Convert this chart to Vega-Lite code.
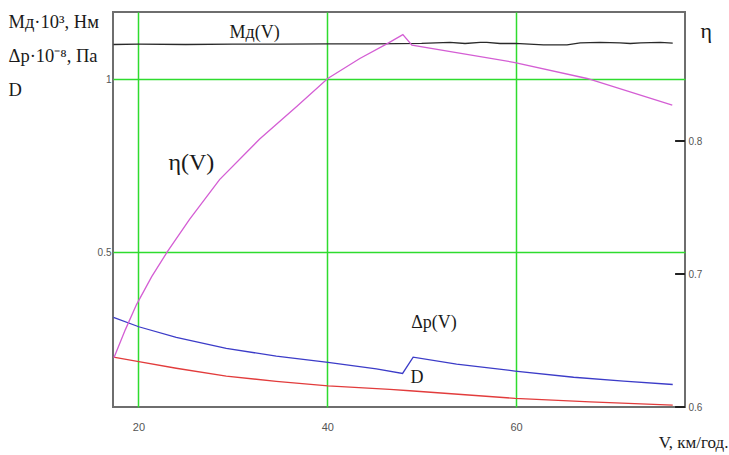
{
  "$schema": "https://vega.github.io/schema/vega-lite/v6.json",
  "width": 572,
  "height": 395,
  "autosize": {"type": "none"},
  "padding": {"left": 113, "top": 12, "right": 44, "bottom": 48},
  "background": "white",
  "config": {
    "view": {"stroke": "#6e6e6e", "strokeWidth": 2},
    "axis": {"domain": false, "labelFont": "Liberation Sans", "labelColor": "#555555", "titleFont": "Liberation Serif", "titleFontWeight": "normal", "titleColor": "#1a1a1a"}
  },
  "datasets": {
    "left": [
      {"series": "M", "V": 17.35, "value": 1.101},
      {"series": "M", "V": 20, "value": 1.102},
      {"series": "M", "V": 25, "value": 1.101},
      {"series": "M", "V": 30, "value": 1.102},
      {"series": "M", "V": 35, "value": 1.102},
      {"series": "M", "V": 40, "value": 1.103},
      {"series": "M", "V": 45, "value": 1.103},
      {"series": "M", "V": 50, "value": 1.104},
      {"series": "M", "V": 53.0, "value": 1.107},
      {"series": "M", "V": 54.6, "value": 1.104},
      {"series": "M", "V": 56.2, "value": 1.107},
      {"series": "M", "V": 56.9, "value": 1.107},
      {"series": "M", "V": 58.3, "value": 1.104},
      {"series": "M", "V": 59.9, "value": 1.104},
      {"series": "M", "V": 62.9, "value": 1.100},
      {"series": "M", "V": 65.4, "value": 1.100},
      {"series": "M", "V": 66.8, "value": 1.106},
      {"series": "M", "V": 68.9, "value": 1.107},
      {"series": "M", "V": 71.0, "value": 1.106},
      {"series": "M", "V": 72.1, "value": 1.104},
      {"series": "M", "V": 73.2, "value": 1.106},
      {"series": "M", "V": 75.3, "value": 1.107},
      {"series": "M", "V": 76.6, "value": 1.105},
      {"series": "dp", "V": 17.35, "value": 0.312},
      {"series": "dp", "V": 20.03, "value": 0.285},
      {"series": "dp", "V": 24.0, "value": 0.254},
      {"series": "dp", "V": 29.3, "value": 0.2225},
      {"series": "dp", "V": 34.6, "value": 0.200},
      {"series": "dp", "V": 40.08, "value": 0.182},
      {"series": "dp", "V": 45.2, "value": 0.163},
      {"series": "dp", "V": 47.98, "value": 0.150},
      {"series": "dp", "V": 49.1, "value": 0.197},
      {"series": "dp", "V": 53.7, "value": 0.177},
      {"series": "dp", "V": 59.9, "value": 0.157},
      {"series": "dp", "V": 66.1, "value": 0.139},
      {"series": "dp", "V": 71.4, "value": 0.128},
      {"series": "dp", "V": 76.6, "value": 0.118},
      {"series": "D", "V": 17.35, "value": 0.197},
      {"series": "D", "V": 20.03, "value": 0.184},
      {"series": "D", "V": 24.0, "value": 0.165},
      {"series": "D", "V": 29.3, "value": 0.1425},
      {"series": "D", "V": 34.6, "value": 0.127},
      {"series": "D", "V": 40.08, "value": 0.114},
      {"series": "D", "V": 46.63, "value": 0.104},
      {"series": "D", "V": 48.75, "value": 0.100},
      {"series": "D", "V": 59.9, "value": 0.078},
      {"series": "D", "V": 67.85, "value": 0.068},
      {"series": "D", "V": 76.6, "value": 0.0587}
    ],
    "eta": [
      {"V": 17.4, "eta": 0.637},
      {"V": 18.6, "eta": 0.658},
      {"V": 19.79, "eta": 0.677},
      {"V": 21.4, "eta": 0.698},
      {"V": 23.08, "eta": 0.717},
      {"V": 25.41, "eta": 0.741},
      {"V": 28.59, "eta": 0.771},
      {"V": 32.84, "eta": 0.8015},
      {"V": 36.76, "eta": 0.826},
      {"V": 40.05, "eta": 0.847},
      {"V": 43.45, "eta": 0.862},
      {"V": 46.31, "eta": 0.873},
      {"V": 48.01, "eta": 0.880},
      {"V": 48.97, "eta": 0.872},
      {"V": 59.89, "eta": 0.859},
      {"V": 67.53, "eta": 0.847},
      {"V": 76.55, "eta": 0.827}
    ],
    "etaTicks": [
      {"eta": 0.6},
      {"eta": 0.7},
      {"eta": 0.8}
    ],
    "labels": [
      {"label": "Мд(V)", "V": 32.3, "value": 1.134},
      {"label": "η(V)", "V": 25.6, "value": 0.758},
      {"label": "Δp(V)", "V": 51.3, "value": 0.296},
      {"label": "D", "V": 49.5, "value": 0.137}
    ]
  },
  "layer": [
    {
      "layer": [
        {
          "data": {"name": "left"},
          "mark": {"type": "line", "strokeWidth": 1.3},
          "encoding": {
            "x": {"field": "V", "type": "quantitative", "scale": {"domain": [17.3, 77.9], "nice": false, "zero": false},
              "axis": {"values": [20, 40, 60], "grid": true, "gridColor": "#2edc2e", "gridWidth": 1.5, "ticks": false, "labelPadding": 14, "labelFontSize": 11,
                "title": "V, км/год.", "titleFontSize": 17, "titleX": 615, "titleY": 40, "titleAlign": "right", "titleBaseline": "alphabetic"}},
            "y": {"field": "value", "type": "quantitative", "scale": {"domain": [0.053, 1.195], "nice": false, "zero": false},
              "axis": {"orient": "left", "values": [0.5, 1], "format": "~g", "grid": true, "gridColor": "#2edc2e", "gridWidth": 1.5, "ticks": false, "labelPadding": 2, "labelFontSize": 10,
                "title": ["Мд·10³, Нм", "Δp·10⁻⁸, Па", "D"], "titleAngle": 0, "titleX": -105, "titleY": 15, "titleAlign": "left", "titleBaseline": "alphabetic", "titleFontSize": 18.5, "titleLineHeight": 34}},
            "color": {"field": "series", "type": "nominal", "scale": {"domain": ["M", "dp", "D"], "range": ["#2a2a2a", "#3c3cc8", "#e23c3c"]}, "legend": null}
          }
        },
        {
          "data": {"name": "labels"},
          "transform": [{"filter": "datum.label !== 'η(V)'"}],
          "mark": {"type": "text", "font": "Liberation Serif", "fontSize": 18, "color": "#1a1a1a"},
          "encoding": {
            "x": {"field": "V", "type": "quantitative"},
            "y": {"field": "value", "type": "quantitative"},
            "text": {"field": "label"}
          }
        },
        {
          "data": {"name": "labels"},
          "transform": [{"filter": "datum.label === 'η(V)'"}],
          "mark": {"type": "text", "font": "Liberation Serif", "fontSize": 24, "color": "#1a1a1a"},
          "encoding": {
            "x": {"field": "V", "type": "quantitative"},
            "y": {"field": "value", "type": "quantitative"},
            "text": {"field": "label"}
          }
        }
      ]
    },
    {
      "layer": [
        {
          "data": {"name": "eta"},
          "mark": {"type": "line", "strokeWidth": 1.3, "color": "#d45ed4"},
          "encoding": {
            "x": {"field": "V", "type": "quantitative"},
            "y": {"field": "eta", "type": "quantitative", "scale": {"domain": [0.6, 0.897], "nice": false, "zero": false},
              "axis": {"orient": "right", "values": [0.6, 0.7, 0.8], "format": ".1f", "grid": false, "ticks": false, "labelPadding": 3, "labelFontSize": 10,
                "title": "η", "titleAngle": 0, "titleX": 15, "titleY": 25, "titleAlign": "left", "titleBaseline": "alphabetic", "titleFontSize": 22}}
          }
        },
        {
          "data": {"name": "etaTicks"},
          "mark": {"type": "rule", "color": "#222222", "strokeWidth": 2},
          "encoding": {
            "x": {"datum": 76.85, "type": "quantitative"},
            "x2": {"datum": 77.9},
            "y": {"field": "eta", "type": "quantitative"}
          }
        }
      ]
    }
  ],
  "resolve": {"scale": {"y": "independent"}}
}
